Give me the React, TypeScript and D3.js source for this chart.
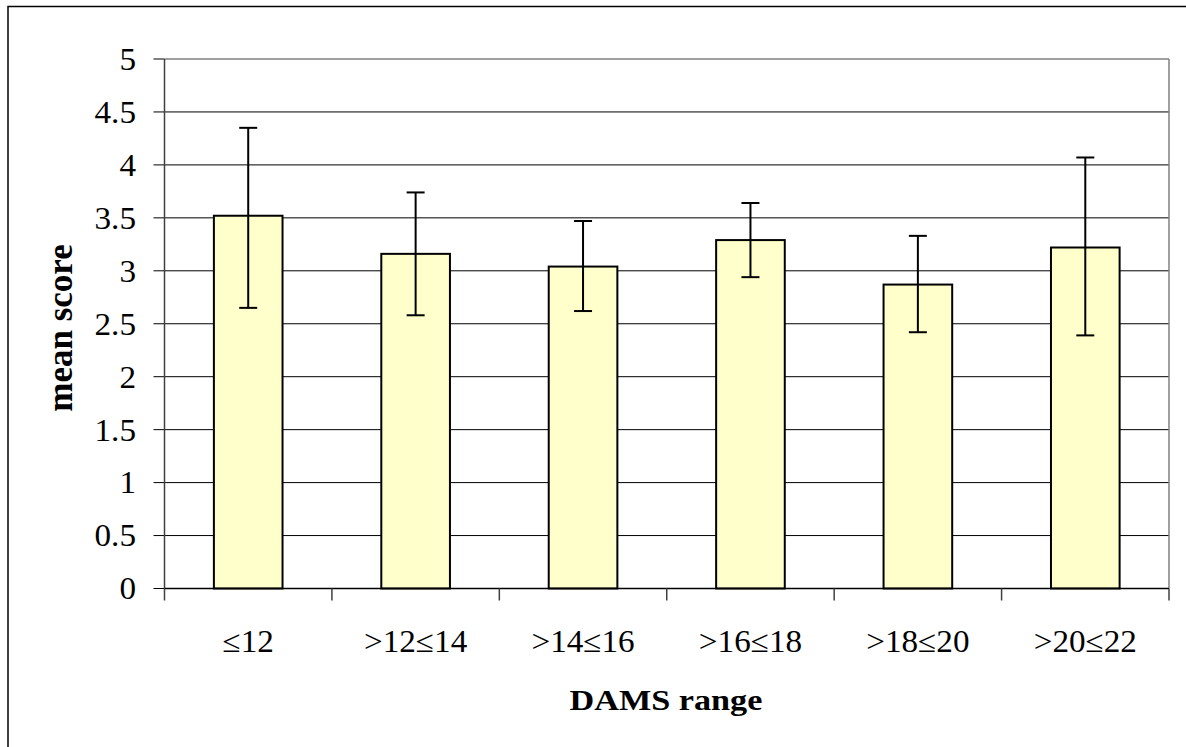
import React from "react";
import * as d3 from "d3";

const categories = ["≤12", ">12≤14", ">14≤16", ">16≤18", ">18≤20", ">20≤22"];
const means = [3.52, 3.16, 3.04, 3.29, 2.87, 3.22];
const upper = [4.35, 3.74, 3.47, 3.64, 3.33, 4.07];
const lower = [2.65, 2.58, 2.62, 2.94, 2.42, 2.39];
const yTicks = [0, 0.5, 1, 1.5, 2, 2.5, 3, 3.5, 4, 4.5, 5];
const yTickLabels = ["0", "0.5", "1", "1.5", "2", "2.5", "3", "3.5", "4", "4.5", "5"];
const xTitle = "DAMS range";
const yTitle = "mean score";

const W = 1186;
const H = 747;
const plot = { left: 164.5, right: 1169, top: 59, bottom: 588.5 };
const font = "'Liberation Serif', 'Times New Roman', serif";

function SText(props: {
  x: number;
  y: number;
  anchor: "start" | "middle" | "end";
  size: number;
  sx: number;
  bold?: boolean;
  dy?: string;
  children: React.ReactNode;
}) {
  return (
    <text
      transform={`translate(${props.x},${props.y}) scale(${props.sx},1)`}
      dy={props.dy}
      textAnchor={props.anchor}
      fontSize={props.size}
      fontWeight={props.bold ? "bold" : "normal"}
      fill="#000"
    >
      {props.children}
    </text>
  );
}

export default function App() {
  const x = d3
    .scaleBand<string>()
    .domain(categories)
    .range([plot.left, plot.right])
    .paddingInner(0.59)
    .paddingOuter(0.295);
  const xOuter = d3.scaleBand<string>().domain(categories).range([plot.left, plot.right]);
  const y = d3.scaleLinear().domain([0, 5]).range([plot.bottom, plot.top]);
  const capHalf = 9;

  return (
    <svg
      width={W}
      height={H}
      style={{ position: "absolute", left: 0, top: 0, background: "#fff" }}
      fontFamily={font}
    >
      <rect x={8} y={6.5} width={W + 10} height={H + 10} fill="#fff" stroke="#000" strokeWidth={1.5} />
      {/* gridlines */}
      {yTicks.map((t, i) => (
        <line
          key={"g" + i}
          x1={plot.left - 11}
          x2={t === 5 || t === 0 ? plot.left : plot.right}
          y1={y(t)}
          y2={y(t)}
          stroke="#000"
          strokeWidth={1}
        />
      ))}
      {/* plot border top/right */}
      <line x1={plot.left} x2={plot.right} y1={plot.top} y2={plot.top} stroke="#808080" strokeWidth={1.5} />
      <line x1={plot.right} x2={plot.right} y1={plot.top} y2={plot.bottom} stroke="#808080" strokeWidth={1.5} />
      {/* bars */}
      {categories.map((c, i) => (
        <rect
          key={"b" + i}
          x={x(c)}
          y={y(means[i])}
          width={x.bandwidth()}
          height={y(0) - y(means[i])}
          fill="#FFFFCC"
          stroke="#000"
          strokeWidth={2}
        />
      ))}
      {/* axes */}
      <line x1={plot.left} x2={plot.left} y1={plot.top} y2={plot.bottom} stroke="#404040" strokeWidth={1.5} />
      <line x1={plot.left} x2={plot.right} y1={plot.bottom} y2={plot.bottom} stroke="#000" strokeWidth={1.5} />
      {categories.map((c, i) => (
        <line
          key={"xt" + i}
          x1={xOuter(c)}
          x2={xOuter(c)}
          y1={plot.bottom}
          y2={plot.bottom + 12}
          stroke="#404040"
          strokeWidth={1.5}
        />
      ))}
      <line x1={plot.right} x2={plot.right} y1={plot.bottom} y2={plot.bottom + 12} stroke="#404040" strokeWidth={1.5} />
      {/* error bars */}
      {categories.map((c, i) => {
        const cx = (x(c) as number) + x.bandwidth() / 2;
        return (
          <g key={"e" + i} stroke="#000" strokeWidth={2}>
            <line x1={cx} x2={cx} y1={y(upper[i])} y2={y(lower[i])} />
            <line x1={cx - capHalf} x2={cx + capHalf} y1={y(upper[i])} y2={y(upper[i])} />
            <line x1={cx - capHalf} x2={cx + capHalf} y1={y(lower[i])} y2={y(lower[i])} />
          </g>
        );
      })}
      {/* y tick labels */}
      {yTicks.map((t, i) => (
        <SText key={"yl" + i} x={136} y={y(t)} dy="0.35em" anchor="end" size={31} sx={1.07}>
          {yTickLabels[i]}
        </SText>
      ))}
      {/* x tick labels */}
      {categories.map((c, i) => (
        <SText
          key={"xl" + i}
          x={(xOuter(c) as number) + xOuter.bandwidth() / 2}
          y={652}
          anchor="middle"
          size={31}
          sx={1.07}
        >
          {c}
        </SText>
      ))}
      <SText x={666} y={710} anchor="middle" size={30} sx={1.14} bold>
        {xTitle}
      </SText>
      <text
        transform={`translate(72, 328) rotate(-90)`}
        textAnchor="middle"
        fontSize={35}
        fontWeight="bold"
        fill="#000"
      >
        {yTitle}
      </text>
    </svg>
  );
}
